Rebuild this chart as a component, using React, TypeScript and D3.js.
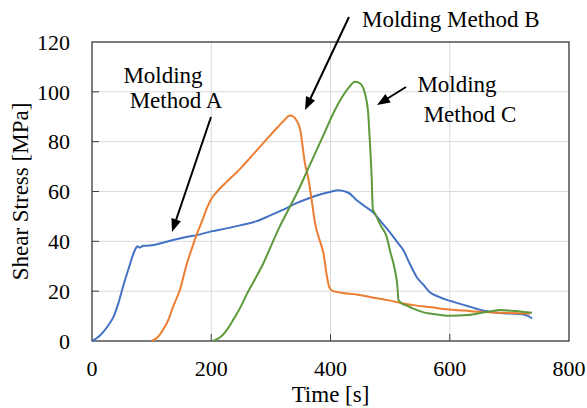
import React from "react";
import * as d3 from "d3";

// Shear stress over time for three molding methods
const timeA = [0, 10, 19, 28, 36, 44, 52, 62, 72, 76, 80, 86, 97, 120, 136, 160, 176, 200, 226, 250, 275, 300, 320, 340, 366, 385, 399, 413, 430, 444, 458, 472, 486, 500, 511, 522, 534, 545, 556, 567, 581, 595, 609, 623, 637, 651, 665, 679, 700, 718, 732, 738];
const stressA = [0, 1.5, 3.7, 6.5, 9.7, 15, 21.8, 29.5, 36.5, 38, 37.5, 38.2, 38.3, 39.5, 40.5, 41.8, 42.5, 44, 45.2, 46.5, 48, 50.5, 52.6, 55, 57.5, 59, 59.8, 60.5, 59.5, 56.5, 54, 51.5, 47.5, 43.5, 40, 36.5, 30.5, 25.5, 22.5, 19.5, 17.8, 16.5, 15.5, 14.5, 13.5, 12.5, 11.8, 11.3, 11, 10.8, 10, 9];

const timeB = [100, 110, 119, 128, 136, 148, 159, 168, 176, 186, 193, 200, 210, 220, 235, 250, 265, 280, 295, 310, 322, 332, 338, 343, 349, 357, 363, 369, 374, 383, 388, 394, 398, 404, 420, 444, 470, 500, 539, 570, 595, 625, 651, 690, 735];
const stressB = [0, 1.5, 4.4, 8.5, 13.8, 21, 31, 37.5, 43, 49, 53.5, 57, 60, 62.5, 66, 69.5, 73.5, 77.5, 81.5, 85.5, 88.5, 90.5, 90, 88.5, 85, 71.5, 65, 55.5, 47.5, 39.5, 35.5, 26, 21.5, 20, 19.3, 18.7, 17.5, 16.2, 14.4, 13.5, 12.7, 12.2, 11.7, 11.3, 11];

const timeC = [203, 215, 226, 238, 250, 260, 275, 287, 300, 315, 330, 344, 366, 388, 405, 416, 430, 441, 449, 455, 460, 463, 466, 469, 471, 475, 485, 494, 500, 508, 512, 514, 520, 528, 539, 555, 567, 585, 600, 630, 663, 685, 710, 738];
const stressC = [0, 1.5, 4.4, 9, 14, 19, 25.5, 31, 38, 46, 53, 59.5, 71, 82.5, 91.5, 96.5, 101.5, 104, 103.5, 101.5, 97, 92, 80, 66, 53, 51, 46, 42, 36, 28.5, 22.5, 16.5, 15, 14.2, 13, 11.6, 11, 10.4, 10.1, 10.4, 11.7, 12.4, 12, 11.3];

const xTicks = [0, 200, 400, 600, 800];
const yTicks = [0, 20, 40, 60, 80, 100, 120];

const seriesColors = ["#4472C4", "#ED7D31", "#5E9A3C"];

const W = 587;
const H = 408;
const M = { left: 92, right: 18, top: 42, bottom: 67 };
const FONT = "'Liberation Serif', 'DejaVu Serif', serif";

export default function App() {
  const x = d3.scaleLinear().domain([0, 800]).range([M.left, W - M.right]);
  const y = d3.scaleLinear().domain([0, 120]).range([H - M.bottom, M.top]);

  const line = d3
    .line<[number, number]>()
    .x((d) => x(d[0]))
    .y((d) => y(d[1]))
    .curve(d3.curveMonotoneX);

  const series = [
    timeA.map((t, i) => [t, stressA[i]] as [number, number]),
    timeB.map((t, i) => [t, stressB[i]] as [number, number]),
    timeC.map((t, i) => [t, stressC[i]] as [number, number]),
  ];

  const x0 = x(0);
  const x1 = x(800);
  const y0 = y(0);
  const y1 = y(120);

  // arrows: [fromX, fromY, tipX, tipY]
  const arrows: [number, number, number, number][] = [
    [211, 117, 172, 232],
    [349, 17, 305, 110],
    [406, 87, 377, 105],
  ];

  const arrowHead = (fx: number, fy: number, tx: number, ty: number) => {
    const ang = Math.atan2(ty - fy, tx - fx);
    const len = 13;
    const half = 5;
    const bx = tx - len * Math.cos(ang);
    const by = ty - len * Math.sin(ang);
    const px = -Math.sin(ang) * half;
    const py = Math.cos(ang) * half;
    return `M${tx},${ty}L${bx + px},${by + py}L${bx - px},${by - py}Z`;
  };

  const textStyle = { fontFamily: FONT };

  return (
    <svg width={W} height={H} style={{ position: "absolute", left: 0, top: 0, background: "#fff", fontFamily: FONT }}>
      {/* grid */}
      {yTicks.slice(1, -1).map((v) => (
        <line key={"gy" + v} x1={x0} x2={x1} y1={y(v)} y2={y(v)} stroke="#d9d9d9" strokeWidth={1} />
      ))}
      {xTicks.slice(1, -1).map((v) => (
        <line key={"gx" + v} x1={x(v)} x2={x(v)} y1={y0} y2={y1} stroke="#d9d9d9" strokeWidth={1} />
      ))}

      {/* plot frame */}
      <rect x={x0} y={y1} width={x1 - x0} height={y0 - y1} fill="none" stroke="#262626" strokeWidth={1.2} />

      {/* inward tick marks */}
      {yTicks.slice(1, -1).map((v) => (
        <line key={"ty" + v} x1={x0} x2={x0 + 7} y1={y(v)} y2={y(v)} stroke="#404040" strokeWidth={1} />
      ))}
      {xTicks.slice(1, -1).map((v) => (
        <line key={"tx" + v} x1={x(v)} x2={x(v)} y1={y0} y2={y0 - 7} stroke="#404040" strokeWidth={1} />
      ))}

      {/* tick labels */}
      {yTicks.map((v) => (
        <text key={"ly" + v} style={textStyle} x={x0 - 22} y={y(v)} dy="0.35em" textAnchor="end" fontSize={22} fill="#000">
          {v}
        </text>
      ))}
      {xTicks.map((v) => (
        <text key={"lx" + v} style={textStyle} x={x(v)} y={y0 + 35} textAnchor="middle" fontSize={22} fill="#000">
          {v}
        </text>
      ))}

      {/* axis titles */}
      <text style={textStyle} x={(x0 + x1) / 2} y={H - 6} textAnchor="middle" fontSize={23} fill="#000">
        Time [s]
      </text>
      <text
        style={textStyle}
        transform={`translate(28, ${(y0 + y1) / 2}) rotate(-90)`}
        textAnchor="middle"
        fontSize={23}
        fill="#000"
      >
        Shear Stress [MPa]
      </text>

      {/* data */}
      {series.map((s, i) => (
        <path key={"s" + i} d={line(s) ?? ""} fill="none" stroke={seriesColors[i]} strokeWidth={2} strokeLinejoin="round" />
      ))}

      {/* annotations */}
      <text style={textStyle} x={163} y={83} textAnchor="middle" fontSize={23} fill="#000">Molding</text>
      <text style={textStyle} x={176} y={108} textAnchor="middle" fontSize={23} fill="#000">Method A</text>
      <text style={textStyle} x={362} y={27} fontSize={23} fill="#000">Molding Method B</text>
      <text style={textStyle} x={457} y={92} textAnchor="middle" fontSize={23} fill="#000">Molding</text>
      <text style={textStyle} x={470} y={122} textAnchor="middle" fontSize={23} fill="#000">Method C</text>

      {arrows.map(([fx, fy, tx, ty], i) => {
        const ang = Math.atan2(ty - fy, tx - fx);
        const ex = tx - 10 * Math.cos(ang);
        const ey = ty - 10 * Math.sin(ang);
        return (
          <g key={"a" + i}>
            <line x1={fx} y1={fy} x2={ex} y2={ey} stroke="#000" strokeWidth={2} />
            <path d={arrowHead(fx, fy, tx, ty)} fill="#000" />
          </g>
        );
      })}
    </svg>
  );
}
